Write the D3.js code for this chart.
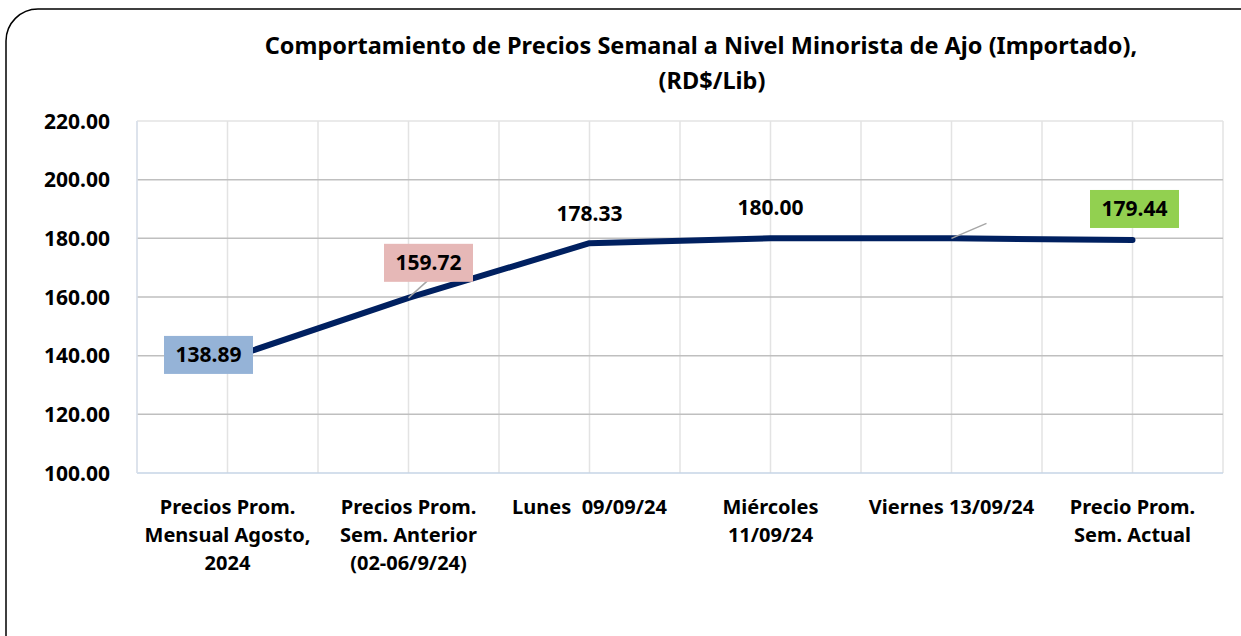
<!DOCTYPE html>
<html>
<head>
<meta charset="utf-8">
<script src="https://cdn.jsdelivr.net/npm/d3@7"></script>
<style>
  body { margin: 0; background: #fff; }
  svg { display: block; font-family: "Noto Sans", "Open Sans", sans-serif; }
  svg text { white-space: pre; }
</style>
</head>
<body>
<div id="chart"></div>
<script>
const categories = [
    ["Precios Prom.", "Mensual Agosto,", "2024"],
    ["Precios Prom.", "Sem. Anterior", "(02-06/9/24)"],
    ["Lunes  09/09/24"],
    ["Miércoles", "11/09/24"],
    ["Viernes 13/09/24"],
    ["Precio Prom.", "Sem. Actual"]
];
const prices = [138.89, 159.72, 178.33, 180.00, 180.00, 179.44];
const yTicks = [100, 120, 140, 160, 180, 200, 220];
const titleLines = ["Comportamiento de Precios Semanal a Nivel Minorista de Ajo (Importado),", "(RD$/Lib)"];

const W = 1241, H = 636;
const margin = { top: 121, right: 18, bottom: 163, left: 137 };

const svg = d3.select("#chart").append("svg")
    .attr("width", W)
    .attr("height", H);

// outer rounded frame
svg.append("rect")
    .attr("x", 6).attr("y", 9)
    .attr("width", W + 30).attr("height", H + 30)
    .attr("rx", 32)
    .attr("fill", "#fff")
    .attr("stroke", "#000")
    .attr("stroke-width", 1.5);

svg.selectAll(".title")
    .data(titleLines)
    .enter().append("text")
    .attr("x", (d, i) => i === 0 ? 701 : 712)
    .attr("y", (d, i) => 54 + i * 35)
    .attr("text-anchor", "middle")
    .attr("font-size", 23.5)
    .attr("font-weight", "bold")
    .text(d => d);

const x = d3.scaleBand()
    .domain(d3.range(categories.length))
    .range([margin.left, W - margin.right]);

const y = d3.scaleLinear()
    .domain([100, 220])
    .range([H - margin.bottom, margin.top]);

const g = svg.append("g");

// vertical grid lines at band edges and centres
const vx = [];
categories.forEach((c, i) => {
    vx.push(x(i));
    vx.push(x(i) + x.bandwidth() / 2);
});
vx.push(x.range()[1]);
g.selectAll(".vgrid")
    .data(vx)
    .enter().append("line")
    .attr("x1", d => d).attr("x2", d => d)
    .attr("y1", y(220)).attr("y2", y(100))
    .attr("stroke", "#e3e3e3")
    .attr("stroke-width", 1.5);

g.selectAll(".hgrid")
    .data(yTicks.filter(d => d > 100))
    .enter().append("line")
    .attr("x1", x.range()[0]).attr("x2", x.range()[1])
    .attr("y1", d => y(d)).attr("y2", d => y(d))
    .attr("stroke", d => d === 220 ? "#e3e3e3" : "#bfbfbf")
    .attr("stroke-width", 1.5);

// axis lines
g.append("line")
    .attr("x1", x.range()[0]).attr("x2", x.range()[1])
    .attr("y1", y(100)).attr("y2", y(100))
    .attr("stroke", "#c6d4e6").attr("stroke-width", 1.5);
g.append("line")
    .attr("x1", x.range()[0]).attr("x2", x.range()[0])
    .attr("y1", y(100)).attr("y2", y(220))
    .attr("stroke", "#d9e1ec").attr("stroke-width", 1.5);

// y axis labels
svg.selectAll(".ytick")
    .data(yTicks)
    .enter().append("text")
    .attr("x", 110)
    .attr("y", d => y(d) + 7.5)
    .attr("text-anchor", "end")
    .attr("font-size", 21)
    .attr("font-weight", "bold")
    .text(d => d.toFixed(2));

// x axis labels
const xl = svg.selectAll(".xlab")
    .data(categories)
    .enter().append("text")
    .attr("text-anchor", "middle")
    .attr("font-size", 20)
    .attr("font-weight", "bold");
xl.each(function(lines, i) {
    d3.select(this).selectAll("tspan")
        .data(lines)
        .enter().append("tspan")
        .attr("x", x(i) + x.bandwidth() / 2)
        .attr("y", (d, j) => 514 + j * 28)
        .text(d => d);
});

// line
const cx = i => x(i) + x.bandwidth() / 2;
const line = d3.line()
    .x((d, i) => cx(i))
    .y(d => y(d));
svg.append("path")
    .datum(prices)
    .attr("d", line)
    .attr("fill", "none")
    .attr("stroke", "#002060")
    .attr("stroke-width", 6)
    .attr("stroke-linejoin", "round")
    .attr("stroke-linecap", "round");

// leader lines
const leaders = [
    { i: 1, dx: 20, dy: -18 },
    { i: 4, dx: 35, dy: -15 }
];
svg.selectAll(".leader")
    .data(leaders)
    .enter().append("line")
    .attr("x1", d => cx(d.i)).attr("y1", d => y(prices[d.i]))
    .attr("x2", d => cx(d.i) + d.dx).attr("y2", d => y(prices[d.i]) + d.dy)
    .attr("stroke", "#a6a6a6")
    .attr("stroke-width", 1.5);

// data labels
const labels = [
    { i: 0, dx: -19, dy: -4, fill: "#95b3d7" },
    { i: 1, dx: 20, dy: -35, fill: "#e6b8b7" },
    { i: 2, dx: 0, dy: -30, fill: null },
    { i: 3, dx: 0, dy: -31, fill: null },
    { i: 5, dx: 2, dy: -31, fill: "#92d050" }
];
const lg = svg.selectAll(".dlabel")
    .data(labels)
    .enter().append("g")
    .attr("transform", d => `translate(${cx(d.i) + d.dx},${y(prices[d.i]) + d.dy})`);
lg.filter(d => d.fill)
    .append("rect")
    .attr("x", -44.5).attr("y", -19)
    .attr("width", 89).attr("height", 38)
    .attr("fill", d => d.fill);
lg.append("text")
    .attr("text-anchor", "middle")
    .attr("y", 7.5)
    .attr("font-size", 21)
    .attr("font-weight", "bold")
    .text(d => prices[d.i].toFixed(2));
</script>
</body>
</html>
